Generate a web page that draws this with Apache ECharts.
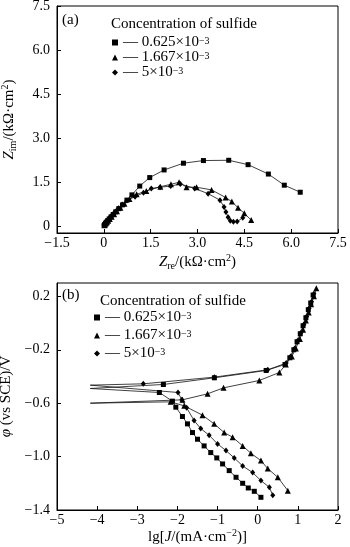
<!DOCTYPE html>
<html><head><meta charset="utf-8">
<script src="https://cdn.jsdelivr.net/npm/echarts@6/dist/echarts.min.js"></script>
<style>html,body{margin:0;padding:0;background:#fff}#c{width:350px;height:547px}</style>
</head><body><div id="c"></div>
<script>
// ---------- Data: (a) Nyquist plots [Zre, Zim] in kΩ·cm² ----------
const nyqS1 = [[0.01,0.02],[0.03,0.05],[0.05,0.09],[0.08,0.13],[0.12,0.18],[0.17,0.24],[0.23,0.31],[0.3,0.39],[0.38,0.48],[0.48,0.59],[0.6,0.72],[0.74,0.88],[0.9,1.06],[1.15,1.36],[1.47,1.65],[1.93,1.91],[2.55,2.14],[3.19,2.23],[4.0,2.24],[4.62,2.09],[5.27,1.77],[5.78,1.39],[6.29,1.15]];
const nyqS2 = [[0.02,0.02],[0.04,0.05],[0.07,0.09],[0.1,0.13],[0.14,0.18],[0.19,0.24],[0.25,0.31],[0.33,0.4],[0.42,0.5],[0.53,0.62],[0.66,0.76],[0.82,0.92],[1.05,1.08],[1.36,1.19],[1.81,1.34],[2.15,1.42],[2.41,1.49],[2.65,1.32],[2.97,1.32],[3.45,1.23],[3.9,0.97],[4.1,0.83],[4.3,0.62],[4.5,0.43],[4.72,0.2]];
const nyqS3 = [[0.0,0.03],[0.02,0.06],[0.05,0.1],[0.08,0.14],[0.12,0.19],[0.16,0.25],[0.22,0.32],[0.29,0.4],[0.37,0.49],[0.47,0.6],[0.59,0.73],[0.74,0.87],[1.0,1.0],[1.27,1.13],[1.52,1.28],[1.8,1.32],[2.14,1.36],[2.45,1.43],[2.91,1.28],[3.34,1.1],[3.72,0.88],[3.85,0.65],[3.91,0.48],[3.98,0.3],[4.05,0.18],[4.15,0.14],[4.27,0.15],[4.45,0.28]];

// ---------- Data: (b) polarization curves [lg J, φ] ----------
const catS1 = [[0.08,-1.305],[-0.085,-1.26],[-0.235,-1.235],[-0.375,-1.2],[-0.54,-1.155],[-0.71,-1.105],[-0.875,-1.055],[-1.02,-1.01],[-1.17,-0.97],[-1.335,-0.92],[-1.5,-0.87],[-1.625,-0.82],[-1.75,-0.755],[-1.875,-0.7],[-2.04,-0.63],[-2.125,-0.585],[-2.45,-0.52]];
const corS1 = [[-4.17,-0.49]];
const anoS1 = [[-2.35,-0.46],[-1.08,-0.41],[0.21,-0.355],[0.68,-0.31],[0.8,-0.26],[0.9,-0.2],[0.98,-0.14],[1.06,-0.08],[1.13,-0.02],[1.2,0.04],[1.26,0.1],[1.32,0.15],[1.38,0.21]];

const catS2 = [[0.75,-1.255],[0.5,-1.155],[0.25,-1.09],[0.08,-1.03],[-0.17,-0.975],[-0.375,-0.92],[-0.625,-0.855],[-0.835,-0.82],[-1.085,-0.755],[-1.375,-0.69],[-1.83,-0.62],[-2.17,-0.59]];
const corS2 = [[-4.17,-0.6]];
const anoS2 = [[-1.875,-0.575],[-1.25,-0.53],[-0.85,-0.485],[0.04,-0.43],[0.54,-0.37],[0.7,-0.31],[0.85,-0.25],[0.95,-0.19],[1.05,-0.12],[1.13,-0.05],[1.2,0.02],[1.27,0.08],[1.33,0.14],[1.4,0.2],[1.46,0.26]];

const catS3 = [[0.375,-1.29],[0.29,-1.23],[0.08,-1.18],[-0.125,-1.12],[-0.375,-1.07],[-0.585,-1.01],[-0.79,-0.955],[-1.0,-0.905],[-1.21,-0.84],[-1.42,-0.79],[-1.585,-0.73],[-1.77,-0.635],[-1.89,-0.575],[-1.985,-0.52]];
const corS3 = [[-4.17,-0.465]];
const anoS3 = [[-2.85,-0.455],[-1.08,-0.405],[0.25,-0.35],[0.71,-0.3],[0.82,-0.25],[0.92,-0.19],[1.0,-0.13],[1.08,-0.07],[1.15,-0.01],[1.22,0.05],[1.28,0.11],[1.34,0.16],[1.4,0.22]];

// ---------- Labels ----------
const seriesNames = ['0.625×10-3', '1.667×10-3', '5×10-3'];
const legendTexts = ['— 0.625×10{sup|−3}', '— 1.667×10{sup|−3}', '— 5×10{sup|−3}'];
const legendTitle = 'Concentration of sulfide';
const ticksAY = [0, 1.5, 3, 4.5, 6, 7.5];
const ticksBY = [0.2, -0.2, -0.6, -1.0, -1.4];

const FONT = '"Liberation Serif","Times New Roman",serif';
const fmt1 = v => (v === 0 ? '0' : v.toFixed(1)).replace('-', '−');
const fmt0 = v => String(v).replace('-', '−');
const symbols = ['rect', 'triangle', 'diamond'];
const symSizes = [5, 6, [5, 6]];
const richAxis = {
  i: {fontStyle: 'italic', fontFamily: FONT, fontSize: 15, color: '#000'},
  sub: {fontSize: 10, fontFamily: FONT, verticalAlign: 'bottom', lineHeight: 10, color: '#000'},
  sup: {fontSize: 10, fontFamily: FONT, verticalAlign: 'top', lineHeight: 10, color: '#000'},
  n: {fontSize: 15, fontFamily: FONT, lineHeight: 18, color: '#000'}
};
const tickLabel = {color: '#000', fontFamily: FONT, fontSize: 14};

function baseAxis(extra) {
  return Object.assign({
    axisLine: {show: true, onZero: false, lineStyle: {color: '#000', width: 1}},
    axisTick: {show: true, inside: true, length: 4, lineStyle: {color: '#000'}},
    splitLine: {show: false},
    nameTextStyle: {color: '#000', fontFamily: FONT, fontSize: 15, rich: richAxis}
  }, extra);
}

function mkLine(name, data, i, gi) {
  return {
    name: name, type: 'line', xAxisIndex: gi, yAxisIndex: gi,
    data: data, symbol: symbols[i], symbolSize: symSizes[i], showAllSymbol: true,
    lineStyle: {color: '#111', width: 0.8}, itemStyle: {color: '#000'},
    emphasis: {disabled: true}, z: 3 - i
  };
}
function polData(cat, cor, ano) {
  return cat.concat(cor.map(p => ({value: p, symbol: 'none'}))).concat(ano);
}

function mkLegend(left, top, gap) {
  return {
    orient: 'vertical', left: left, top: top, itemWidth: 6, itemHeight: 6, itemGap: gap,
    selectedMode: false,
    data: seriesNames.map((n, i) => ({name: n, icon: symbols[i]})),
    formatter: n => legendTexts[seriesNames.indexOf(n)],
    textStyle: {color: '#000', fontFamily: FONT, fontSize: 15, lineHeight: 12,
      rich: {sup: {fontSize: 10, fontFamily: FONT, verticalAlign: 'top', lineHeight: 8, color: '#000'}}}
  };
}
const titleStyle = {fontFamily: FONT, fontSize: 15, fontWeight: 'normal', color: '#000'};

const chart = echarts.init(document.getElementById('c'), null, {renderer: 'canvas'});
chart.setOption({
  animation: false,
  backgroundColor: '#fff',
  title: [
    {text: '(a)', left: 57, top: 8, textStyle: titleStyle},
    {text: legendTitle, left: 106, top: 12, textStyle: titleStyle},
    {text: '(b)', left: 57, top: 283, textStyle: titleStyle},
    {text: legendTitle, left: 95, top: 289, textStyle: titleStyle}
  ],
  legend: [mkLegend(107, 30, 0), mkLegend(89, 305, 3)],
  grid: [
    {left: 57, right: 12, top: 6, bottom: 314, show: true, borderColor: '#000', borderWidth: 1, containLabel: false, outerBoundsMode: 'none'},
    {left: 57, right: 12, top: 283, bottom: 37, show: true, borderColor: '#000', borderWidth: 1, containLabel: false, outerBoundsMode: 'none'}
  ],
  xAxis: [
    baseAxis({type: 'value', gridIndex: 0, min: -1.5, max: 7.5, interval: 1.5,
      axisLabel: Object.assign({margin: 3, formatter: fmt1}, tickLabel),
      name: '{i|Z}{sub|re}{n|/(kΩ·cm}{sup|2}{n|)}', nameLocation: 'middle', nameGap: 20}),
    baseAxis({type: 'value', gridIndex: 1, min: -5, max: 2, interval: 1,
      axisLabel: Object.assign({margin: 3, formatter: fmt0}, tickLabel),
      name: '{n|lg[}{i|J}{n|/(mA·cm}{sup|−2}{n|)]}', nameLocation: 'middle', nameGap: 17})
  ],
  yAxis: [
    baseAxis({type: 'value', gridIndex: 0, min: -0.24, max: 7.5,
      axisTick: {show: true, inside: true, length: 4, lineStyle: {color: '#000'}, customValues: ticksAY},
      axisLabel: Object.assign({margin: 7, formatter: fmt1, customValues: ticksAY}, tickLabel),
      name: '{i|Z}{sub|im}{n|/(kΩ·cm}{sup|2}{n|)}', nameLocation: 'middle', nameRotate: 90, nameGap: 39}),
    baseAxis({type: 'value', gridIndex: 1, min: -1.4, max: 0.3,
      axisTick: {show: true, inside: true, length: 4, lineStyle: {color: '#000'}, customValues: ticksBY},
      axisLabel: Object.assign({margin: 7, formatter: fmt1, customValues: ticksBY}, tickLabel),
      name: '{i|φ}{n| (vs SCE)/V}', nameLocation: 'middle', nameRotate: 90, nameGap: 39})
  ],
  series: [
    mkLine(seriesNames[0], nyqS1, 0, 0),
    mkLine(seriesNames[1], nyqS2, 1, 0),
    mkLine(seriesNames[2], nyqS3, 2, 0),
    mkLine(seriesNames[0], polData(catS1, corS1, anoS1), 0, 1),
    mkLine(seriesNames[1], polData(catS2, corS2, anoS2), 1, 1),
    mkLine(seriesNames[2], polData(catS3, corS3, anoS3), 2, 1)
  ]
});
</script></body></html>
